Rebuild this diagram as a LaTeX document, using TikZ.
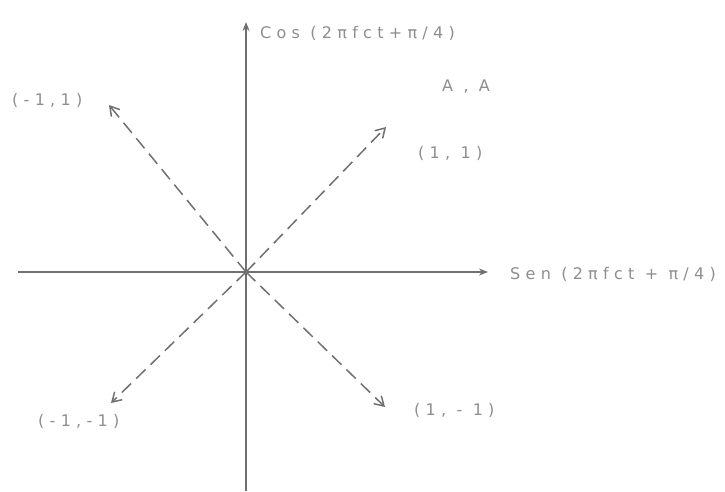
\documentclass[tikz,border=0pt]{standalone}
\usepackage{fontspec}
\setmainfont{DejaVu Sans}[LetterSpace=33]
\usetikzlibrary{arrows.meta}
\definecolor{ink}{HTML}{707070}
\definecolor{txt}{HTML}{8E8E8E}
\tikzset{
  axis/.style={draw=ink, line width=1.6pt, -{Stealth[length=9pt,width=7pt]}},
  vec/.style={draw=ink, line width=1.5pt, dash pattern=on 13pt off 7pt, -{Straight Barb[length=9pt,width=11pt,line width=1.5pt]}},
  lbl/.style={text=txt, font=\fontsize{16}{18}\selectfont, inner sep=0pt, anchor=west}
}
\begin{document}
\begin{tikzpicture}[x=1pt,y=-1pt]
\useasboundingbox (0,0) rectangle (725,491);
\coordinate (o) at (246,272);
\coordinate (xl) at (18,272);
\coordinate (xr) at (488,272);
\coordinate (yb) at (246,491);
\coordinate (yt) at (246,22);
\coordinate (q1) at (386,127);
\coordinate (q2) at (109,105);
\coordinate (q3) at (111,403);
\coordinate (q4) at (385,407);
\draw[axis] (xl) -- (xr);
\draw[axis] (yb) -- (yt);
\draw[vec] (o) -- (q1);
\draw[vec] (o) -- (q2);
\draw[vec] (o) -- (q3);
\draw[vec] (o) -- (q4);
\node[lbl] (cos) at (260,33) {Cos (2πfct+π/4)};
\node[lbl] (sen) at (510,274) {Sen (2πfct + π/4)};
\node[lbl] (m11) at (12,100) {(-1,1)};
\node[lbl] (aa) at (442,87) {A , A};
\node[lbl] (p11) at (418,153) {(1, 1)};
\node[lbl] (mm) at (38,421) {(-1,-1)};
\node[lbl] (pm) at (414,410) {(1, - 1)};
\end{tikzpicture}
\end{document}
